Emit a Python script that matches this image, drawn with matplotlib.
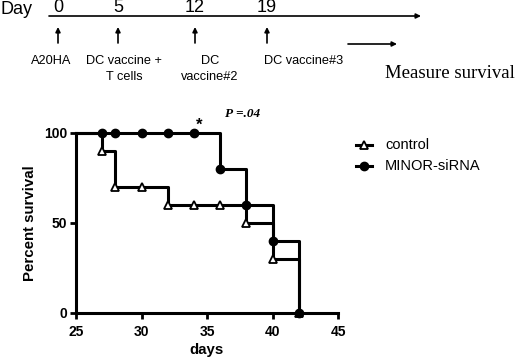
import numpy as np
import matplotlib.pyplot as plt

plt.rcParams['font.family'] = ['Liberation Sans', 'DejaVu Sans']

# timeline (top panel)
tl_days = [0, 5, 12, 19]
tl_labels = ['A20HA', 'DC vaccine +\nT cells', 'DC\nvaccine#2', 'DC vaccine#3']

# survival data
ctrl_t = [25, 27, 28, 32, 38, 40, 42]
ctrl_s = [100, 90, 70, 60, 50, 30, 0]
ctrl_mk_t = [27, 28, 30, 32, 34, 36, 38, 40, 42]
ctrl_mk_s = [90, 70, 70, 60, 60, 60, 50, 30, 0]

sirna_t = [25, 36, 38, 40, 42]
sirna_s = [100, 80, 60, 40, 0]
sirna_mk_t = [27, 28, 30, 32, 34, 36, 38, 40, 42]
sirna_mk_s = [100, 100, 100, 100, 100, 80, 60, 40, 0]

fig = plt.figure(figsize=(5.2, 3.58), dpi=100)

# overlay in pixel coordinates for the timeline and legend
ov = fig.add_axes([0, 0, 1, 1])
ov.set_xlim(0, 520)
ov.set_ylim(358, 0)
ov.axis('off')

arr = dict(arrowstyle='-|>', lw=1.2, color='black', mutation_scale=7, shrinkA=0, shrinkB=0)

ov.text(0, 9, 'Day', fontsize=13, va='center', ha='left')
ov.annotate('', xy=(421, 16), xytext=(49, 16), arrowprops=arr)
tick_x = [58, 118, 195, 267]
label_x = [51, 124, 210, 304]
for d, x in zip(tl_days, tick_x):
    ov.text(x, 8, str(d), fontsize=13, ha='center', va='center')
    ov.annotate('', xy=(x, 27), xytext=(x, 43), arrowprops=arr)
for x, lab in zip(label_x, tl_labels):
    ov.text(x, 55, lab, fontsize=9.2, ha='center', va='top', linespacing=1.4)
ov.annotate('', xy=(397, 44), xytext=(348, 44), arrowprops=arr)
ov.text(385, 74, 'Measure survival', fontsize=13.5, family='Liberation Serif',
        ha='left', va='center')

# survival plot
ax = fig.add_axes([76 / 520, 45.3 / 358, 262 / 520, 180 / 358])
ax.step(ctrl_t, ctrl_s, where='post', color='black', lw=2.2, clip_on=False, zorder=3)
ax.step(sirna_t, sirna_s, where='post', color='black', lw=2.2, clip_on=False, zorder=3)
ax.plot(ctrl_mk_t, ctrl_mk_s, ls='none', marker='^', ms=6, mfc='white', mec='black',
        mew=1.3, clip_on=False, zorder=4)
ax.plot(sirna_mk_t, sirna_mk_s, ls='none', marker='o', ms=6, color='black',
        clip_on=False, zorder=4)

ax.set_xlim(25, 45)
ax.set_ylim(0, 100)
ax.set_xticks([25, 30, 35, 40, 45])
ax.set_yticks([0, 50, 100])
for s in ['top', 'right']:
    ax.spines[s].set_visible(False)
for s in ['left', 'bottom']:
    ax.spines[s].set_linewidth(2.2)
ax.tick_params(width=2, length=4, labelsize=10)
ax.tick_params(axis='x', pad=5)
ax.tick_params(axis='y', pad=2.5)
for lab in ax.get_xticklabels() + ax.get_yticklabels():
    lab.set_fontweight('bold')
ax.set_xlabel('days', fontsize=10.8, fontweight='bold', labelpad=3)
ax.set_ylabel('Percent survival', fontsize=10.8, fontweight='bold', labelpad=5)

ax.text(34.4, 104, '*', fontsize=12, fontweight='bold', ha='center', va='center')
ax.text(36.4, 110.5, 'P =.04', fontsize=9.5, family='Liberation Serif',
        fontweight='bold', style='italic', ha='left', va='center')

# legend
ov.plot([356, 372], [145, 145], color='black', lw=2.2)
ov.plot([364], [145], marker='^', ms=6, mfc='white', mec='black', mew=1.3)
ov.plot([356, 372], [166, 166], color='black', lw=2.2)
ov.plot([364], [166], marker='o', ms=6, color='black')
ov.text(385, 145, 'control', fontsize=10.5, va='center', ha='left')
ov.text(385, 166, 'MINOR-siRNA', fontsize=10.5, va='center', ha='left')

fig.savefig('out.png', dpi=100)
